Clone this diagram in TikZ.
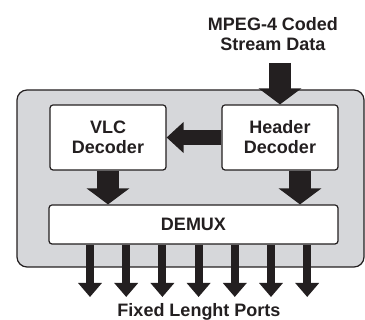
\documentclass[tikz,border=0pt]{standalone}
\usepackage{fontspec}
\setmainfont{Liberation Sans}
\usetikzlibrary{arrows.meta, calc}

\definecolor{panel}{RGB}{214,215,218}
\definecolor{ink}{RGB}{35,31,32}

\tikzset{
	label text/.style = {font = \fontsize{18}{20}\selectfont\bfseries, text = ink, align = center, inner sep = 0pt},
	block/.style = {draw = ink, line width = 1.2pt, fill = white, rounded corners = 3pt, label text},
	fat arrow/.style = {draw = ink, line width = 22pt, -{Triangle[width = 42pt, length = 16pt]}},
	side arrow/.style = {draw = ink, line width = 15pt, -{Triangle[width = 30pt, length = 17pt]}},
	port arrow/.style = {draw = ink, line width = 8pt, -{Triangle[width = 23pt, length = 14pt]}}
}

\begin{document}
\begin{tikzpicture}[x = 1pt, y = -1pt]
		\useasboundingbox (0,0) rectangle (365,320);
		
		\def\portgap{36.2};
		
		%panel
		\draw [draw = ink, line width = 1.2pt, fill = panel, rounded corners = 10pt] (17,90) rectangle (364,267);
		
		%blocks
		\node [block, minimum width = 116pt, minimum height = 65pt] (vlc decoder) at (108,137.5) {VLC\\Decoder};
		\node [block, minimum width = 116pt, minimum height = 65pt] (header decoder) at (280,137.5) {Header\\Decoder};
		\node [block, minimum width = 289pt, minimum height = 39pt] (demux) at (193.5,224.5) {DEMUX};
		
		%texts
		\node [label text] (stream data) at (273,34) {MPEG-4 Coded\\Stream Data};
		\node [label text, anchor = base] (ports) at (199,317) {Fixed Lenght Ports};
		
		%arrows
		\coordinate (stream in) at (280,63);
		\draw [fat arrow] (stream in) -- (header decoder.north);
		\draw [side arrow] (header decoder.west) -- (vlc decoder.east);
		\draw [fat arrow] (vlc decoder.south) -- (vlc decoder.south |- demux.north);
		\draw [fat arrow] ($ (header decoder.south) + (20,0) $) -- ($ (header decoder.south |- demux.north) + (20,0) $);
		
		%ports
		\foreach \i in {0,...,6}
			{
			\coordinate (port \i) at ({90 + \i*\portgap},297);
			\draw [port arrow] (demux.south -| port \i) -- (port \i);
			}
	\end{tikzpicture}
\end{document}
